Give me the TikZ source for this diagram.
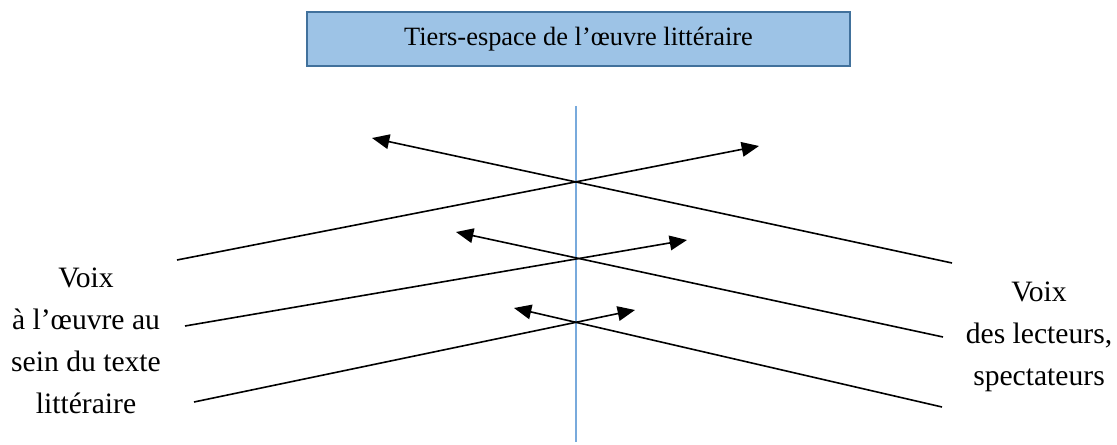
\documentclass[tikz,border=0pt]{standalone}
\usepackage{fontspec}
\setmainfont{Liberation Serif}
\usetikzlibrary{arrows.meta}
\definecolor{boxfill}{RGB}{157,195,230}
\definecolor{boxline}{RGB}{65,113,156}
\definecolor{axisblue}{RGB}{120,170,220}
\begin{document}
\begin{tikzpicture}[x=0.75pt,y={(0pt,-0.75pt)},
  voice/.style={line width=1.2pt,-{Triangle[length=13pt,width=11pt]}},
  axisline/.style={axisblue,line width=1pt},
  titlebox/.style={draw=boxline,fill=boxfill,line width=1.1pt,minimum width=407pt,minimum height=40.5pt,font=\fontsize{19.8}{24}\selectfont},
  sidetext/.style={align=center,font=\fontsize{22.2}{31.5}\selectfont}]
\useasboundingbox (0,0) rectangle (1117,445);

% Title box
\node[titlebox] (title) at (578.5,39) {Tiers-espace de l’œuvre littéraire};

% Vertical axis
\coordinate (axtop) at (576,106);
\coordinate (axbot) at (576,442);
\draw[axisline] (axtop) -- (axbot);

% End points of the voices
\coordinate (la) at (177,260);  \coordinate (ra) at (759,146);
\coordinate (lb) at (952,263);  \coordinate (rb) at (372,138);
\coordinate (lc) at (185,326);  \coordinate (rc) at (687,240);
\coordinate (ld) at (943,337);  \coordinate (rd) at (456,232);
\coordinate (le) at (194,402);  \coordinate (re) at (635,310);
\coordinate (lf) at (942,407);  \coordinate (rf) at (514,308);

% Crossing voices
\draw[voice] (la) -- (ra);
\draw[voice] (lb) -- (rb);
\draw[voice] (lc) -- (rc);
\draw[voice] (ld) -- (rd);
\draw[voice] (le) -- (re);
\draw[voice] (lf) -- (rf);

% Labels
\node[sidetext] (left) at (86,341) {Voix\\à l’œuvre au\\sein du texte\\littéraire};
\node[sidetext] (right) at (1039,337) {Voix\\des lecteurs,\\spectateurs};
\end{tikzpicture}
\end{document}
